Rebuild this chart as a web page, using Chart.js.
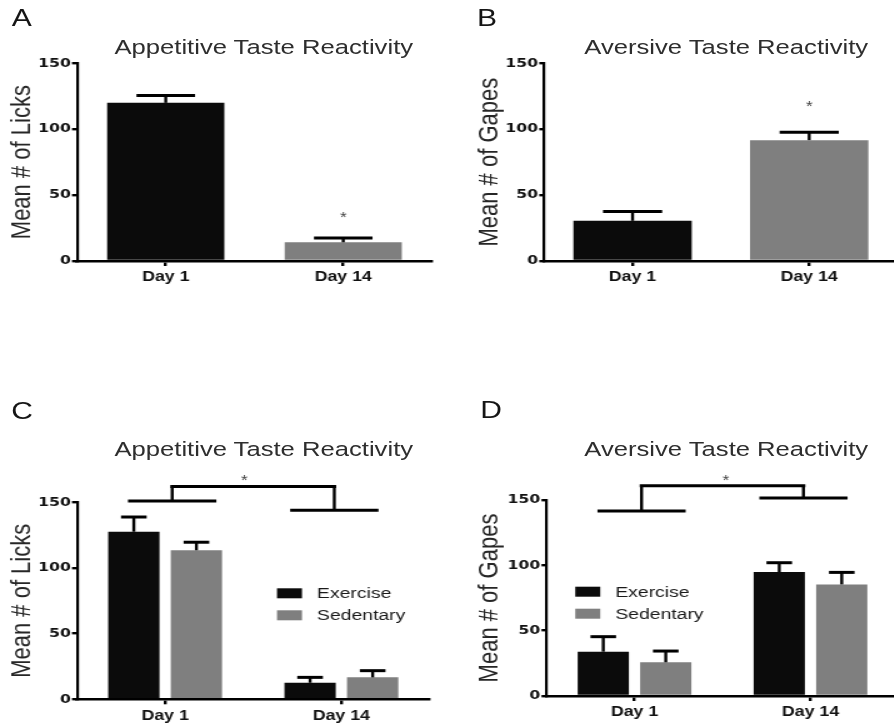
<!DOCTYPE html>
<html lang="en">
<head>
<meta charset="UTF-8">
<title>Taste Reactivity</title>
<script src="https://cdn.jsdelivr.net/npm/chart.js"></script>
<style>
  html, body { margin: 0; padding: 0; background: #fff; overflow: hidden; width: 894px; height: 725px; }
  /* the source figure is stretched sideways, so the whole page is drawn narrow and widened */
  #page { position: absolute; left: 0; top: 0; width: 716px; height: 725px; transform: scaleX(1.25); transform-origin: 0 0; }
  #page canvas { position: absolute; }
  .txt { position: absolute; white-space: nowrap; font-family: 'Liberation Sans', Arial, sans-serif; }
</style>
</head>
<body>
<div id="page">
  <canvas id="chartA" width="357" height="300" style="left:0px;top:0px"></canvas>
  <canvas id="chartB" width="360" height="300" style="left:357.6px;top:0px"></canvas>
  <canvas id="chartC" width="358" height="345" style="left:0px;top:380px"></canvas>
  <canvas id="chartD" width="361" height="345" style="left:357.6px;top:380px"></canvas>
</div>
<script>
  // data
  const days = ['Day 1', 'Day 14'];

  const lickMeans = [120, 14.2];
  const lickSem = [5.5, 3.2];
  const gapeMeans = [30.5, 91.7];
  const gapeSem = [7, 6];

  const exLicks = [127.6, 12.6];
  const exLicksSem = [11.2, 4.1];
  const sedLicks = [113.5, 16.7];
  const sedLicksSem = [6.1, 5.1];

  const exGapes = [33.9, 94.9];
  const exGapesSem = [11.5, 7.1];
  const sedGapes = [25.8, 85.4];
  const sedGapesSem = [8.6, 9.2];

  // significance marks (heights in data units)
  const starA = [null, 36];
  const starB = [null, 120];
  const bracketC = [151, 162, 144];   // left arm, top, right arm
  const bracketD = [141.5, 161, 151.5];
  const bracketStarC = 169;
  const bracketStarD = 167.5;

  const BLACK = '#0b0b0b';
  const GREY = '#7f7f7f';

  const errorBars = {
    id: 'errorBars',
    afterDatasetsDraw(chart) {
      const ctx = chart.ctx, ys = chart.scales.y;
      ctx.save();
      ctx.strokeStyle = '#000';
      chart.data.datasets.forEach((ds, i) => {
        chart.getDatasetMeta(i).data.forEach((bar, j) => {
          const yTop = ys.getPixelForValue(ds.data[j] + ds.sem[j]);
          const half = bar.width * 0.25;
          ctx.lineWidth = 2.4;
          ctx.beginPath(); ctx.moveTo(bar.x, bar.y); ctx.lineTo(bar.x, yTop); ctx.stroke();
          ctx.lineWidth = 3;
          ctx.beginPath(); ctx.moveTo(bar.x - half, yTop); ctx.lineTo(bar.x + half, yTop); ctx.stroke();
        });
      });
      ctx.restore();
    }
  };

  function drawStar(ctx, x, y) {
    ctx.font = '14px "Liberation Sans", Arial';
    ctx.fillStyle = '#444';
    ctx.textAlign = 'center';
    ctx.textBaseline = 'alphabetic';
    ctx.fillText('*', x, y + 14 * 0.575);
  }

  const sigMarks = {
    id: 'sigMarks',
    afterDatasetsDraw(chart, args, opts) {
      const ctx = chart.ctx, xs = chart.scales.x, ys = chart.scales.y;
      ctx.save();
      (opts.stars || []).forEach((v, i) => {
        if (v !== null) drawStar(ctx, xs.getPixelForValue(i), ys.getPixelForValue(v));
      });
      if (opts.bracket) {
        const [l, t, r] = opts.bracket;
        const step = xs.getPixelForValue(1) - xs.getPixelForValue(0);
        const xl = xs.getPixelForValue(opts.at[0]);
        const xr = xs.getPixelForValue(opts.at[1]);
        const arm = step * 0.24;
        ctx.strokeStyle = '#000';
        ctx.lineCap = 'square';
        ctx.lineWidth = 3;
        ctx.beginPath();
        ctx.moveTo(xl - arm, ys.getPixelForValue(l)); ctx.lineTo(xl + arm, ys.getPixelForValue(l));
        ctx.moveTo(xr - arm, ys.getPixelForValue(r)); ctx.lineTo(xr + arm, ys.getPixelForValue(r));
        ctx.moveTo(xl, ys.getPixelForValue(t)); ctx.lineTo(xr, ys.getPixelForValue(t));
        ctx.stroke();
        ctx.lineWidth = 2.4;
        ctx.lineCap = 'butt';
        ctx.beginPath();
        ctx.moveTo(xl, ys.getPixelForValue(l)); ctx.lineTo(xl, ys.getPixelForValue(t));
        ctx.moveTo(xr, ys.getPixelForValue(r)); ctx.lineTo(xr, ys.getPixelForValue(t));
        ctx.stroke();
        drawStar(ctx, xs.getPixelForValue(opts.starAt), ys.getPixelForValue(opts.star));
      }
      ctx.restore();
    }
  };

  const boxLegend = {
    id: 'boxLegend',
    afterDraw(chart, args, opts) {
      if (!opts.show) return;
      const ctx = chart.ctx, a = chart.chartArea;
      ctx.save();
      ctx.font = '15.5px "Liberation Sans", Arial';
      ctx.textAlign = 'left';
      ctx.textBaseline = 'alphabetic';
      chart.data.datasets.forEach((ds, i) => {
        const x = a.left + opts.x, y = a.top + opts.y + i * 22;
        ctx.fillStyle = ds.backgroundColor;
        ctx.fillRect(x, y, 20, 10);
        ctx.fillStyle = '#1a1a1a';
        ctx.fillText(ds.label, x + 32, y + 9.8);
      });
      ctx.restore();
    }
  };

  function makeChart(id, datasets, o) {
    return new Chart(document.getElementById(id), {
      type: 'bar',
      data: { labels: days, datasets },
      options: {
        responsive: false,
        animation: false,
        layout: { padding: o.pad },
        plugins: {
          legend: { display: false },
          tooltip: { enabled: false },
          sigMarks: o.marks,
          boxLegend: o.legend || { show: false }
        },
        scales: {
          x: {
            z: 1,
            grid: { offset: false, drawOnChartArea: false, tickLength: 5, lineWidth: 2.4, color: '#000' },
            border: { color: '#000', width: 2.6 },
            ticks: { color: '#111', padding: 3, font: { family: '"Liberation Sans", Arial', weight: 'bold', size: 14.2 } },
            afterFit: s => { s.height = o.xHeight; }
          },
          y: {
            z: 1,
            min: 0, max: 150,
            grid: { drawOnChartArea: false, tickLength: 4, lineWidth: 2.4, color: '#000' },
            border: { color: '#000', width: 2.2 },
            ticks: { stepSize: 50, color: '#111', padding: 1, font: { family: '"DejaVu Sans"', weight: 'bold', size: 12.5 } },
            title: { display: true, text: o.yTitle, color: '#262626', padding: { top: 5.2, bottom: 0 }, font: { family: '"Liberation Sans", Arial', size: 22 } },
            afterFit: s => { s.width = o.yWidth; }
          }
        }
      },
      plugins: [errorBars, sigMarks, boxLegend]
    });
  }

  makeChart('chartA', [
    { label: 'Licks', data: lickMeans, sem: lickSem, backgroundColor: [BLACK, GREY], barPercentage: 1, categoryPercentage: 0.66 }
  ], { pad: { left: 0, right: 11.4, top: 63.3, bottom: 9 }, yWidth: 61.6, xHeight: 30, yTitle: 'Mean # of Licks', marks: { stars: starA } });

  makeChart('chartB', [
    { label: 'Gapes', data: gapeMeans, sem: gapeSem, backgroundColor: [BLACK, GREY], barPercentage: 1, categoryPercentage: 0.67 }
  ], { pad: { left: 16, right: 0, top: 63.3, bottom: 9 }, yWidth: 61.4, xHeight: 30, yTitle: 'Mean # of Gapes', marks: { stars: starB } });

  makeChart('chartC', [
    { label: 'Exercise', data: exLicks, sem: exLicksSem, backgroundColor: BLACK, barPercentage: 0.82, categoryPercentage: 0.71 },
    { label: 'Sedentary', data: sedLicks, sem: sedLicksSem, backgroundColor: GREY, barPercentage: 0.82, categoryPercentage: 0.71 }
  ], { pad: { left: 0, right: 14.4, top: 122.3, bottom: 0 }, yWidth: 61.6, xHeight: 25.7, yTitle: 'Mean # of Licks',
       marks: { bracket: bracketC, at: [0.04, 0.96], star: bracketStarC, starAt: 0.45 },
       legend: { show: true, x: 160, y: 86 } });

  makeChart('chartD', [
    { label: 'Exercise', data: exGapes, sem: exGapesSem, backgroundColor: BLACK, barPercentage: 0.82, categoryPercentage: 0.71 },
    { label: 'Sedentary', data: sedGapes, sem: sedGapesSem, backgroundColor: GREY, barPercentage: 0.82, categoryPercentage: 0.71 }
  ], { pad: { left: 16, right: 0.2, top: 120, bottom: 4 }, yWidth: 63.2, xHeight: 25, yTitle: 'Mean # of Gapes',
       marks: { bracket: bracketD, at: [0.04, 0.96], star: bracketStarD, starAt: 0.52 },
       legend: { show: true, x: 23, y: 86.7 } });

  // panel letters and titles
  function addText(text, x, baseline, size, color, centered) {
    const d = document.createElement('div');
    d.className = 'txt';
    d.textContent = text;
    d.style.fontSize = size + 'px';
    d.style.lineHeight = size + 'px';
    d.style.color = color;
    d.style.left = x + 'px';
    d.style.top = (baseline - size * 0.8465) + 'px';
    if (centered) d.style.transform = 'translateX(-50%)';
    document.getElementById('page').appendChild(d);
  }
  addText('A', 9.4, 26.7, 24, '#151515');
  addText('B', 381.5, 26.7, 24, '#151515');
  addText('C', 9, 419.5, 24, '#151515');
  addText('D', 384.3, 418.3, 24, '#151515');
  addText('Appetitive Taste Reactivity', 211, 54, 20.5, '#2e2e2e', true);
  addText('Aversive Taste Reactivity', 581, 54, 20.5, '#2e2e2e', true);
  addText('Appetitive Taste Reactivity', 211, 456, 20.5, '#2e2e2e', true);
  addText('Aversive Taste Reactivity', 581, 456, 20.5, '#2e2e2e', true);
</script>
</body>
</html>
